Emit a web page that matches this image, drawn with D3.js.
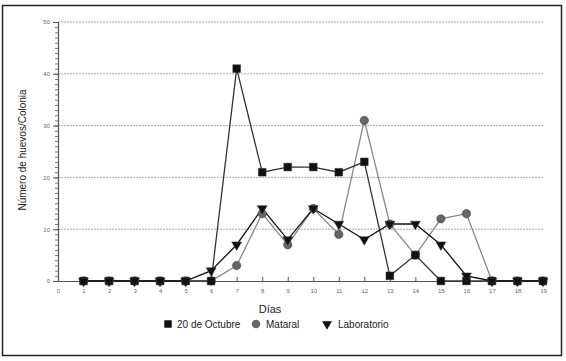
<!DOCTYPE html>
<html>
<head>
<meta charset="utf-8">
<script src="https://cdn.jsdelivr.net/npm/d3@7"></script>
<style>
  body { margin: 0; background: #fff; }
  svg { font-family: "Liberation Sans", Arial, sans-serif; }
</style>
</head>
<body>
<svg id="chart" width="566" height="361"></svg>
<script>
const days = [1, 2, 3, 4, 5, 6, 7, 8, 9, 10, 11, 12, 13, 14, 15, 16, 17, 18, 19];
const octubre = [0, 0, 0, 0, 0, 0, 41, 21, 22, 22, 21, 23, 1, 5, 0, 0, 0, 0, 0];
const mataral = [0, 0, 0, 0, 0, 0, 3, 13, 7, 14, 9, 31, 11, 5, 12, 13, 0, 0, 0];
const laboratorio = [0, 0, 0, 0, 0, 2, 7, 14, 8, 14, 11, 8, 11, 11, 7, 1, 0, 0, 0];
const xTicks = d3.range(0, 20);
const yTicks = [0, 10, 20, 30, 40, 50];

const svg = d3.select("#chart");

// outer frame
svg.append("rect")
    .attr("x", 2.5).attr("y", 5.5)
    .attr("width", 559).attr("height", 350)
    .attr("fill", "none").attr("stroke", "#222").attr("stroke-width", 1.5);

const x = d3.scaleLinear().domain([0, 19]).range([58, 543]);
const y = d3.scaleLinear().domain([0, 50]).range([281, 22]);

// grid
svg.append("g").selectAll("line")
    .data(yTicks.filter(d => d > 0))
    .enter().append("line")
    .attr("x1", x(0)).attr("x2", x(19))
    .attr("y1", d => y(d)).attr("y2", d => y(d))
    .attr("stroke", "#aaa").attr("stroke-width", 1)
    .attr("stroke-dasharray", "2,1");

// y axis with minor ticks
svg.append("g")
    .attr("transform", `translate(${x(0)},0)`)
    .call(d3.axisLeft(y).ticks(50).tickSize(3).tickFormat(""))
    .call(g => g.select(".domain").remove())
    .call(g => g.selectAll("line").attr("stroke", "#777"));
svg.append("g")
    .attr("transform", `translate(${x(0)},0)`)
    .call(d3.axisLeft(y).tickValues(yTicks).tickSize(5).tickPadding(3))
    .call(g => g.select(".domain").attr("stroke", "#555").attr("stroke-width", 1.2))
    .call(g => g.selectAll("line").attr("stroke", "#555"))
    .call(g => g.selectAll("text").attr("font-size", 6).attr("fill", "#666")
        .attr("font-family", "Liberation Sans, Arial, sans-serif"));

// x axis
svg.append("g")
    .attr("transform", `translate(0,${y(0)})`)
    .call(d3.axisBottom(x).tickValues(xTicks).tickSize(-4).tickPadding(8).tickSizeOuter(0))
    .call(g => g.select(".domain").attr("stroke", "#555").attr("stroke-width", 1.2))
    .call(g => g.selectAll("line").attr("stroke", "#555"))
    .call(g => g.selectAll("text").attr("font-size", 6).attr("fill", "#666")
        .attr("font-family", "Liberation Sans, Arial, sans-serif"));

// titles
svg.append("text")
    .attr("x", 270).attr("y", 313)
    .attr("text-anchor", "middle")
    .attr("font-size", 11).attr("fill", "#222")
    .text("Días");
svg.append("text")
    .attr("transform", "translate(26,150) rotate(-90)")
    .attr("text-anchor", "middle")
    .attr("font-size", 10).attr("fill", "#222")
    .text("Número de huevos/Colonia");

const line = d3.line().x((d, i) => x(days[i])).y(d => y(d));

const series = [
  { name: "Mataral", values: mataral, line: "#888", fill: "#666", shape: d3.symbolCircle, size: 55 },
  { name: "20 de Octubre", values: octubre, line: "#333", fill: "#111", shape: d3.symbolSquare, size: 60 },
  { name: "Laboratorio", values: laboratorio, line: "#111", fill: "#111", shape: d3.symbolTriangle, size: 42, rot: 180 }
];

series.forEach(s => {
  svg.append("path")
      .datum(s.values)
      .attr("fill", "none")
      .attr("stroke", s.line)
      .attr("stroke-width", 1.3)
      .attr("d", line);
});

series.forEach(s => {
  svg.append("g").selectAll("path")
      .data(s.values)
      .enter().append("path")
      .attr("d", d3.symbol().type(s.shape).size(s.size))
      .attr("transform", (d, i) => `translate(${x(days[i])},${y(d)})` + (s.rot ? ` rotate(${s.rot})` : ""))
      .attr("fill", s.fill)
      .attr("stroke", "#333").attr("stroke-width", 0.5);
});

// legend
const legend = [
  { name: "20 de Octubre", shape: d3.symbolSquare, fill: "#111", sx: 168, tx: 177, size: 56 },
  { name: "Mataral", shape: d3.symbolCircle, fill: "#666", sx: 256, tx: 266, size: 56 },
  { name: "Laboratorio", shape: d3.symbolTriangle, fill: "#111", sx: 327, tx: 338, size: 42, rot: 180 }
];
const lg = svg.append("g");
legend.forEach(l => {
  lg.append("path")
      .attr("d", d3.symbol().type(l.shape).size(l.size))
      .attr("transform", `translate(${l.sx},324)` + (l.rot ? ` rotate(${l.rot})` : ""))
      .attr("fill", l.fill);
  lg.append("text")
      .attr("x", l.tx).attr("y", 327.5)
      .attr("font-size", 10).attr("fill", "#222")
      .text(l.name);
});
</script>
</body>
</html>
